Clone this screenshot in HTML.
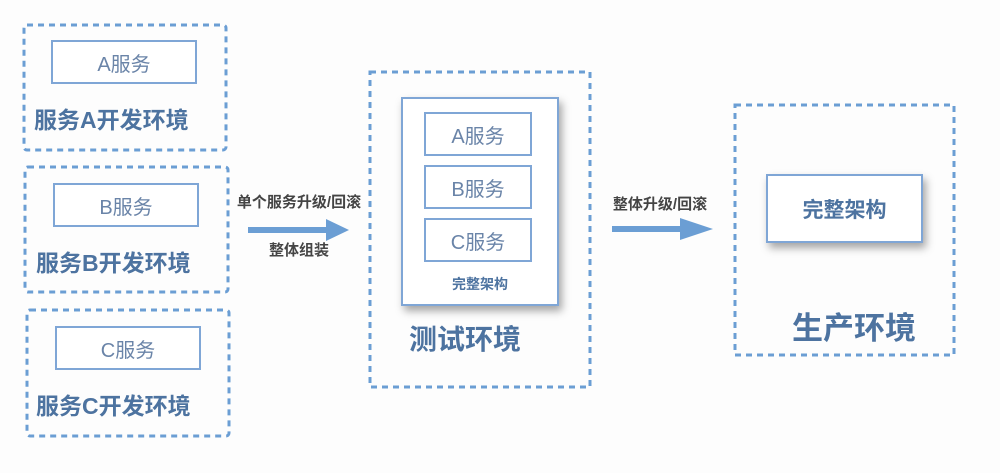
<!DOCTYPE html>
<html><head><meta charset="utf-8"><style>
html,body{margin:0;padding:0;background:#fdfdfd;}
body{width:1000px;height:473px;position:relative;overflow:hidden;font-family:"Liberation Sans","Noto Sans CJK SC",sans-serif;}
.t{position:absolute;white-space:nowrap;text-align:center;}
.box{position:absolute;border:2px solid #7fa6d6;background:#fff;box-sizing:border-box;display:flex;align-items:center;justify-content:center;color:#6a84a8;font-size:20px;}
.sh{box-shadow:3px 5px 8px rgba(0,0,0,0.35);}
.env{font-weight:bold;color:#4d73a0;font-size:23px;}
</style></head><body>
<svg width="1000" height="473" style="position:absolute;left:0;top:0">
<g fill="none" stroke="#6b9ed4" stroke-width="3" stroke-dasharray="6 5">
<rect x="24" y="25" width="202" height="125" rx="3"/>
<rect x="25" y="167" width="203" height="125" rx="3"/>
<rect x="27" y="310" width="202" height="126" rx="3"/>
<rect x="370" y="72" width="220" height="315"/>
<rect x="735" y="105" width="219" height="250"/>
</g>
<g fill="#6b9ed4">
<rect x="248" y="227" width="80" height="6"/>
<polygon points="326,219 349,230 326,241"/>
<rect x="612" y="226" width="70" height="6"/>
<polygon points="680,218 713,229 680,240"/>
</g>
</svg>
<div class="box" style="left:51px;top:40px;width:146px;height:44px">A服务</div>
<div class="box" style="left:53px;top:183px;width:146px;height:44px">B服务</div>
<div class="box" style="left:55px;top:326px;width:146px;height:44px">C服务</div>
<div class="t env" style="left:34px;top:101px">服务A开发环境</div>
<div class="t env" style="left:36px;top:244px">服务B开发环境</div>
<div class="t env" style="left:36px;top:387px">服务C开发环境</div>
<div class="t" style="left:228px;top:191px;width:142px;font-size:15px;font-weight:bold;color:#444">单个服务升级/回滚</div>
<div class="t" style="left:228px;top:239px;width:142px;font-size:15px;font-weight:bold;color:#444">整体组装</div>
<div class="box sh" style="left:401px;top:97px;width:158px;height:209px"></div>
<div class="box" style="left:424px;top:112px;width:108px;height:44px">A服务</div>
<div class="box" style="left:424px;top:165px;width:108px;height:44px">B服务</div>
<div class="box" style="left:424px;top:218px;width:108px;height:44px">C服务</div>
<div class="t" style="left:401px;top:274px;width:158px;font-size:14px;font-weight:bold;color:#4d73a0">完整架构</div>
<div class="t" style="left:365px;top:318px;width:200px;font-size:28px;color:#4d73a0;font-weight:bold">测试环境</div>
<div class="t" style="left:600px;top:193px;width:120px;font-size:15px;font-weight:bold;color:#444">整体升级/回滚</div>
<div class="box sh" style="left:766px;top:174px;width:157px;height:69px;font-size:21px;font-weight:bold;color:#4d73a0">完整架构</div>
<div class="t" style="left:779px;top:303px;width:150px;font-size:31px;color:#4d73a0;font-weight:bold">生产环境</div>
</body></html>
